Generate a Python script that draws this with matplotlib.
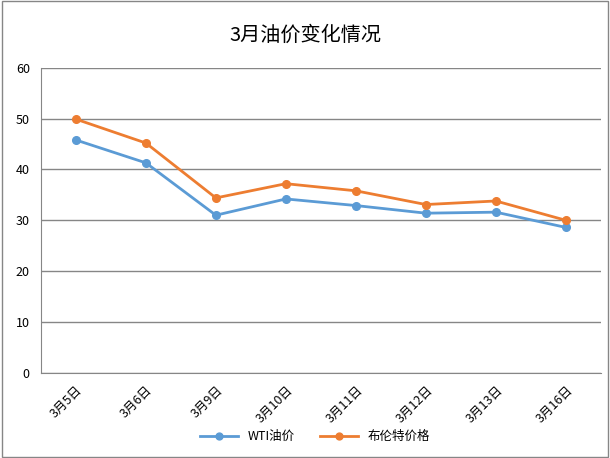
import matplotlib
matplotlib.use("Agg")
import matplotlib.pyplot as plt
from matplotlib.patches import Rectangle

plt.rcParams['font.family'] = ['Noto Sans CJK SC', 'DejaVu Sans']

dates = ['3月5日', '3月6日', '3月9日', '3月10日', '3月11日', '3月12日', '3月13日', '3月16日']
wti = [45.8, 41.3, 31.0, 34.2, 32.9, 31.4, 31.6, 28.6]
brent = [49.9, 45.2, 34.4, 37.2, 35.8, 33.1, 33.8, 30.0]
y_ticks = [0, 10, 20, 30, 40, 50, 60]

fig = plt.figure(figsize=(6.1, 4.58), dpi=100)
ax = fig.add_axes([0.067, 0.186, 0.918, 0.666])

x = list(range(len(dates)))
ax.plot(x, wti, color='#5B9BD5', lw=2, marker='o', ms=5.5, label='WTI油价')
ax.plot(x, brent, color='#ED7D31', lw=2, marker='o', ms=5.5, label='布伦特价格')

ax.set_xlim(-0.5, len(dates) - 0.5)
ax.set_ylim(0, 60)
ax.set_yticks(y_ticks)
ax.set_xticks(x)
ax.set_xticklabels(dates, rotation=45, ha='right', rotation_mode='anchor', fontsize=9)
ax.tick_params(axis='y', labelsize=9, length=0, pad=8)
ax.tick_params(axis='x', length=0, pad=8)
ax.grid(axis='y', color='#868686', lw=1)
ax.set_axisbelow(True)
for s in ['top', 'right']:
    ax.spines[s].set_visible(False)
ax.spines['left'].set_color('#868686')
ax.spines['bottom'].set_color('#868686')

fig.suptitle('3月油价变化情况', x=0.5, y=0.945, fontsize=14.5)
ax.legend(loc='center', bbox_to_anchor=(0.49, -0.21), ncol=2, frameon=False,
          fontsize=9, handlelength=3, columnspacing=2, markerscale=0.9)

fig.patches.append(Rectangle((0.003, 0.003), 0.994, 0.994, transform=fig.transFigure,
                             fill=False, edgecolor='#868686', lw=1))

fig.savefig('out.png', dpi=100)
